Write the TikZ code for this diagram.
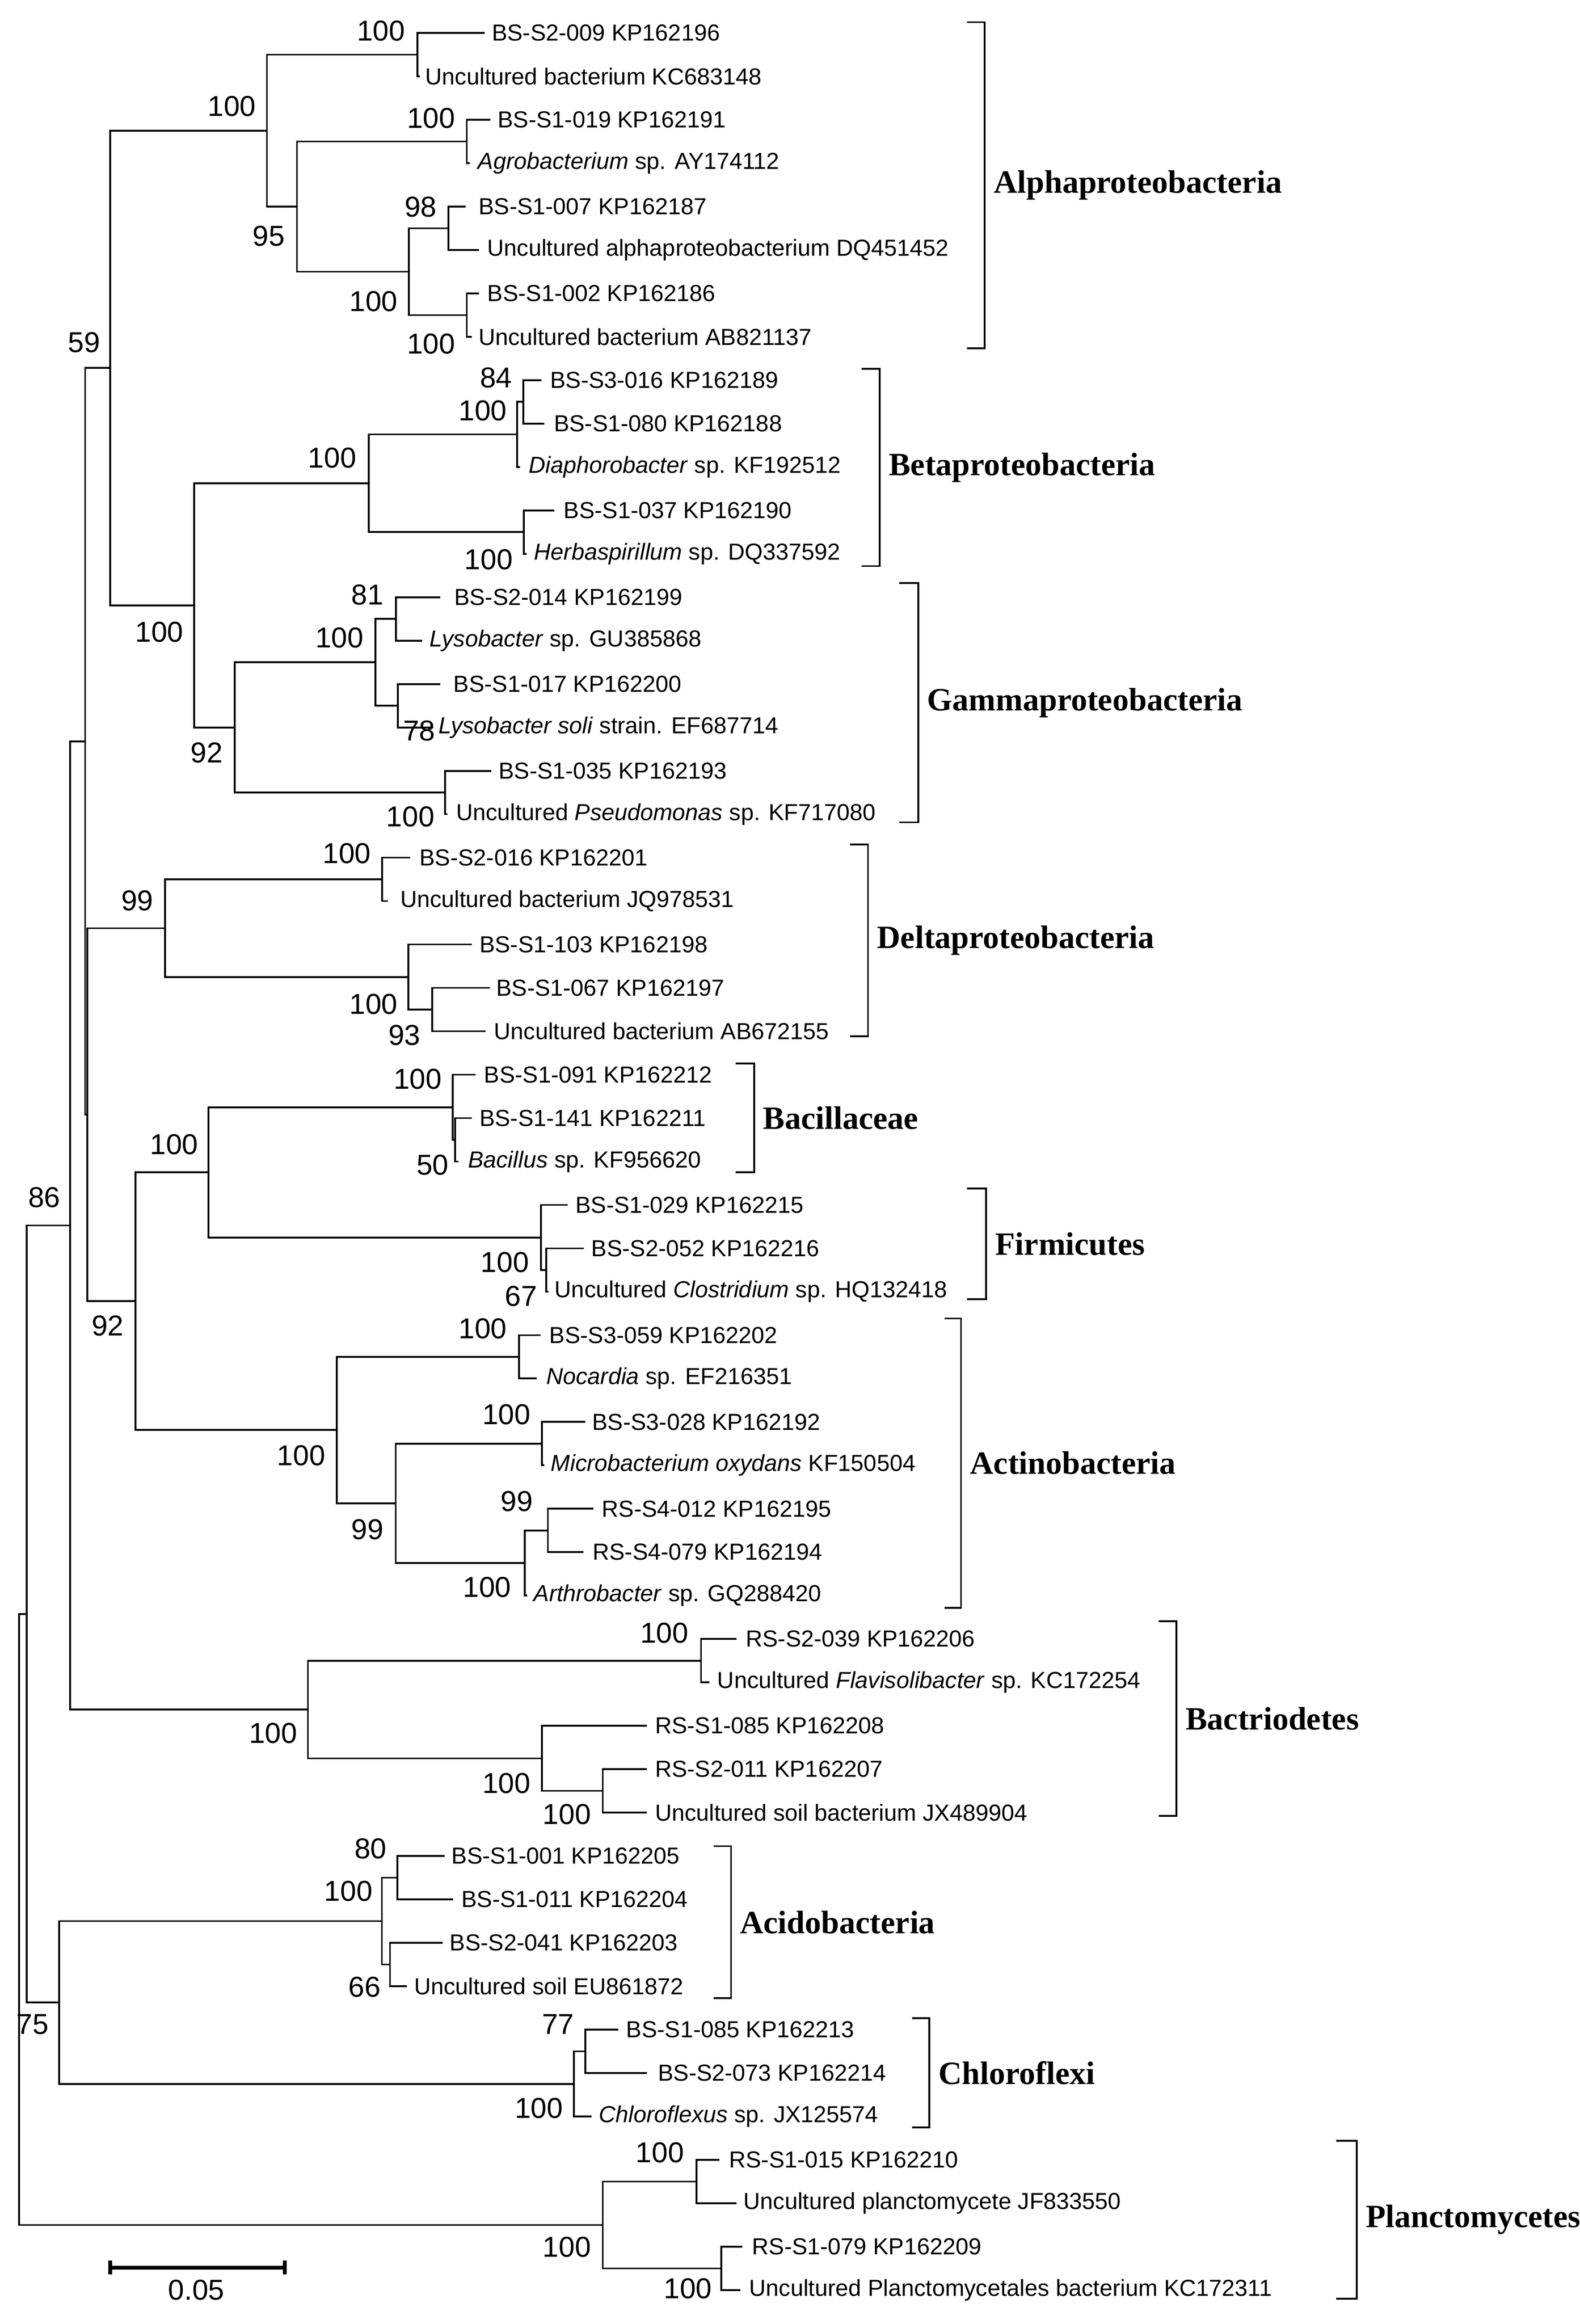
\documentclass[tikz,border=0pt]{standalone}
\usepackage{fontspec}
\setmainfont{Liberation Serif}
\newfontfamily\arialf{Liberation Sans}
\begin{document}
\begin{tikzpicture}[x=1pt,y=-1pt,
  br/.style={line width=1.2pt,line cap=rect},
  tx/.style={anchor=west,inner sep=0pt,font=\arialf\fontsize{15.7}{16}\selectfont},
  bs/.style={inner sep=0pt,font=\arialf\fontsize{19.5}{20}\selectfont},
  cl/.style={anchor=west,inner sep=0pt,font=\bfseries\fontsize{22}{24}\selectfont}]
\useasboundingbox (0,0) rectangle (1070,1574.1);
\newcommand\tp[5]{\pgfmathsetmacro\yy{22.3+29.4*#1}%
  \node[tx] (t#1) at (#4,\yy) {#5};
  \draw[br] (#2,\yy) -- (#3,\yy);}
\newcommand\nd[6]{\coordinate (#1) at (#2,#6);
  \draw[br] (#2,#3) -- (#2,#4); \draw[br] (#5,#6) -- (#1);}
\newcommand\brk[6]{\draw[line width=1.2pt] (#4,#2) -- (#1,#2) -- (#1,#3) -- (#4,#3);
  \node[cl] (#5) at ({#1+6},{(#2+#3)/2}) {#6};}
% tips
\tp{0}{282.8}{327.6}{333}{BS-S2-009 KP162196}
\tp{1}{282.8}{283.8}{288}{Uncultured bacterium KC683148}
\tp{2}{316.2}{331.7}{337}{BS-S1-019 KP162191}
\tp{3}{316.2}{317.7}{323.6}{\textit{Agrobacterium} sp. AY174112}
\tp{4}{303.8}{314.7}{324}{BS-S1-007 KP162187}
\tp{5}{303.8}{324}{330}{Uncultured alphaproteobacterium DQ451452}
\tp{6}{316.2}{324}{330}{BS-S1-002 KP162186}
\tp{7}{316.2}{319}{324}{Uncultured bacterium AB821137}
\tp{8}{354.5}{366.3}{372.5}{BS-S3-016 KP162189}
\tp{9}{354.5}{368.2}{375}{BS-S1-080 KP162188}
\tp{10}{350.2}{351.5}{358}{\textit{Diaphorobacter} sp. KF192512}
\tp{11}{354.9}{375}{381.7}{BS-S1-037 KP162190}
\tp{12}{354.9}{356}{361.7}{\textit{Herbaspirillum} sp. DQ337592}
\tp{13}{268.3}{297.7}{307.5}{BS-S2-014 KP162199}
\tp{14}{268.3}{285.3}{290.8}{\textit{Lysobacter} sp. GU385868}
\tp{15}{269.6}{297.7}{307}{BS-S1-017 KP162200}
\tp{16}{269.6}{292.8}{296.8}{\textit{Lysobacter soli} strain. EF687714}
\tp{17}{301.4}{332.3}{337.6}{BS-S1-035 KP162193}
\tp{18}{301.4}{302.5}{308.8}{Uncultured \textit{Pseudomonas} sp. KF717080}
\tp{19}{258.8}{277.3}{284}{BS-S2-016 KP162201}
\tp{20}{258.8}{262}{271}{Uncultured bacterium JQ978531}
\tp{21}{276.7}{319}{324.6}{BS-S1-103 KP162198}
\tp{22}{292.8}{331.4}{336}{BS-S1-067 KP162197}
\tp{23}{292.8}{328.3}{334.5}{Uncultured bacterium AB672155}
\tp{24}{306.7}{321.5}{327.7}{BS-S1-091 KP162212}
\tp{25}{308.2}{319}{324.6}{BS-S1-141 KP162211}
\tp{26}{308.2}{310}{316.9}{\textit{Bacillus} sp. KF956620}
\tp{27}{366.4}{384}{389.6}{BS-S1-029 KP162215}
\tp{28}{370}{394.8}{400.4}{BS-S2-052 KP162216}
\tp{29}{370}{371}{375.6}{Uncultured \textit{Clostridium} sp. HQ132418}
\tp{30}{351.5}{365.4}{372}{BS-S3-059 KP162202}
\tp{31}{351.5}{363}{370}{\textit{Nocardia} sp. EF216351}
\tp{32}{367.2}{396}{401}{BS-S3-028 KP162192}
\tp{33}{367.2}{368}{373}{\textit{Microbacterium oxydans} KF150504}
\tp{34}{371.1}{401.3}{407.5}{RS-S4-012 KP162195}
\tp{35}{371.1}{394.6}{401.3}{RS-S4-079 KP162194}
\tp{36}{355.4}{356.5}{361.3}{\textit{Arthrobacter} sp. GQ288420}
\tp{37}{474.9}{498.4}{505}{RS-S2-039 KP162206}
\tp{38}{474.9}{480}{485.8}{Uncultured \textit{Flavisolibacter} sp. KC172254}
\tp{39}{367.2}{437.7}{443.5}{RS-S1-085 KP162208}
\tp{40}{408.3}{437.7}{443.5}{RS-S2-011 KP162207}
\tp{41}{408.3}{437.7}{443.5}{Uncultured soil bacterium JX489904}
\tp{42}{269.3}{300.6}{305.7}{BS-S1-001 KP162205}
\tp{43}{269.3}{306.5}{312.4}{BS-S1-011 KP162204}
\tp{44}{264.2}{299.4}{304.5}{BS-S2-041 KP162203}
\tp{45}{264.2}{275.2}{280.3}{Uncultured soil EU861872}
\tp{46}{396.6}{418.1}{424}{BS-S1-085 KP162213}
\tp{47}{396.6}{437.7}{445.5}{BS-S2-073 KP162214}
\tp{48}{388.7}{400}{405.6}{\textit{Chloroflexus} sp. JX125574}
\tp{49}{471.7}{486.6}{493.7}{RS-S1-015 KP162210}
\tp{50}{471.7}{498.4}{503.5}{Uncultured planctomycete JF833550}
\tp{51}{488.6}{502.3}{509.3}{RS-S1-079 KP162209}
\tp{52}{488.6}{501}{507.4}{Uncultured Planctomycetales bacterium KC172311}
% internal nodes
\nd{A1}{282.8}{22.3}{51.7}{180.8}{37}
\nd{A2}{316.2}{81.1}{110.5}{201.2}{95.8}
\nd{A3}{303.8}{139.9}{169.3}{277}{154.6}
\nd{A4}{316.2}{198.7}{228.1}{277}{213.4}
\nd{A5}{277}{154.6}{213.4}{201.2}{184}
\nd{A6}{201.2}{95.8}{184}{180.8}{139.9}
\nd{A7}{180.8}{37}{139.9}{74.6}{88.45}
\nd{B1}{354.5}{257.5}{286.9}{350.2}{272.2}
\nd{B2}{350.2}{272.2}{316.3}{249.7}{294.25}
\nd{B3}{354.9}{345.7}{375.1}{249.7}{360.4}
\nd{B4}{249.7}{294.25}{360.4}{131.6}{327.3}
\nd{G1}{268.3}{404.5}{433.9}{254.4}{419.2}
\nd{G2}{269.6}{463.3}{492.7}{254.4}{478}
\nd{G3}{254.4}{419.2}{478}{158.9}{448.6}
\nd{G4}{301.4}{522.1}{551.5}{158.9}{536.8}
\nd{G5}{158.9}{448.6}{536.8}{131.6}{492.7}
\nd{BG}{131.6}{327.3}{492.7}{74.6}{410}
\nd{P}{74.6}{88.45}{410}{57.7}{249.2}
\nd{D1}{258.8}{580.9}{610.3}{111.9}{595.6}
\nd{D2}{292.8}{669.1}{698.5}{276.7}{683.8}
\nd{D3}{276.7}{639.7}{683.8}{111.9}{661.75}
\nd{D4}{111.9}{595.6}{661.75}{59.2}{628.7}
\nd{C1}{308.2}{757.3}{786.7}{306.7}{772}
\nd{C2}{306.7}{727.9}{772}{141.3}{750}
\nd{F1}{370}{845.5}{874.9}{366.4}{860.2}
\nd{F2}{366.4}{816.1}{860.2}{141.3}{838.2}
\nd{CF}{141.3}{750}{838.2}{91.8}{794.1}
\nd{N1}{351.5}{904.3}{933.7}{228.2}{919}
\nd{M1}{367.2}{963.1}{992.5}{268.1}{977.8}
\nd{R1}{371.1}{1021.9}{1051.3}{355.4}{1036.6}
\nd{R2}{355.4}{1036.6}{1080.7}{268.1}{1058.65}
\nd{M2}{268.1}{977.8}{1058.65}{228.2}{1018.2}
\nd{AC}{228.2}{919}{1018.2}{91.8}{968.6}
\nd{N92}{91.8}{794.1}{968.6}{59.2}{881.35}
\nd{N}{59.2}{628.7}{881.35}{57.7}{755}
\nd{N59}{57.7}{249.2}{755}{47.6}{502.1}
\nd{T1}{474.9}{1110.1}{1139.5}{208.6}{1124.8}
\nd{T2}{408.3}{1198.3}{1227.7}{367.2}{1213}
\nd{T3}{367.2}{1168.9}{1213}{208.6}{1190.95}
\nd{T4}{208.6}{1124.8}{1190.95}{47.6}{1157.9}
\nd{N86}{47.6}{502.1}{1157.9}{18}{830}
\nd{K1}{269.3}{1257.1}{1286.5}{258.7}{1271.8}
\nd{K2}{264.2}{1315.9}{1345.3}{258.7}{1330.6}
\nd{K3}{258.7}{1271.8}{1330.6}{40.1}{1301.2}
\nd{H1}{396.6}{1374.7}{1404.1}{388.7}{1389.4}
\nd{H2}{388.7}{1389.4}{1433.5}{40.1}{1411.45}
\nd{N75}{40.1}{1301.2}{1411.45}{18}{1356.3}
\nd{N18}{18}{830}{1356.3}{13}{1093.2}
\nd{L1}{471.7}{1462.9}{1492.3}{408.3}{1477.6}
\nd{L2}{488.6}{1521.7}{1551.1}{408.3}{1536.4}
\nd{L3}{408.3}{1477.6}{1536.4}{13}{1507}
\draw[br] (13,1093.2) -- (13,1507);
% bootstrap values
\foreach \v/\x/\y [count=\i] in {100/258/21,100/157/72,100/292/80,95/182/160,98/285/140,100/253/204,100/292/233,
 84/336/256,100/327/278,100/225/310,100/331/379,81/249/403,100/230/432,78/284/495,100/108/428,92/140/510,
 59/57/232,100/278/553,100/235/578,99/93/610,100/253/680,93/274/701,100/283/731,50/293/789,100/118/775,
 100/342/855,67/353/878,86/30/811,92/73/898,100/327/900,100/343/958,100/204/986,99/350/1017,99/249/1036,
 100/330/1075,100/450/1106,100/185/1174,100/343/1208,100/384/1229,80/251/1252,100/236/1281,66/247/1346,
 77/378/1371,100/365/1428,75/22/1371,100/447/1458,100/384/1522,100/466/1550}
  \node[bs] (b\i) at (\x,\y) {\v};
% clade brackets
\brk{667}{15}{236}{655}{cA}{Alphaproteobacteria}
\brk{596}{249.8}{383.4}{583.7}{cB}{Betaproteobacteria}
\brk{622}{395}{557}{609}{cG}{Gammaproteobacteria}
\brk{588}{572}{702}{576}{cD}{Deltaproteobacteria}
\brk{510.8}{720.4}{794}{498.4}{cC}{Bacillaceae}
\brk{668}{805}{880}{655}{cF}{Firmicutes}
\brk{651}{893}{1089}{640}{cN}{Actinobacteria}
\brk{797}{1098}{1230}{785}{cT}{Bactriodetes}
\brk{495.2}{1250.4}{1353.4}{483.5}{cK}{Acidobacteria}
\brk{629.6}{1366.9}{1440.9}{617.8}{cH}{Chloroflexi}
\brk{919}{1450}{1557}{905}{cL}{Planctomycetes}
% scale bar
\coordinate (s1) at (73.6,1535.8); \coordinate (s2) at (194,1535.8);
\draw[line width=2.6pt] (s1) -- (s2);
\draw[line width=2.6pt] (74.8,1531) -- (74.8,1540.6);
\draw[line width=2.6pt] (192.8,1531) -- (192.8,1540.6);
\node[bs] (sl) at (133,1551) {0.05};
\end{tikzpicture}
\end{document}
